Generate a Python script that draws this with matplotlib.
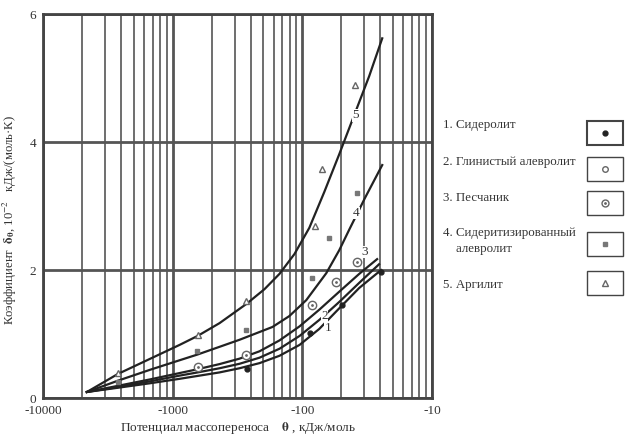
import numpy as np
import matplotlib.pyplot as plt
from matplotlib.ticker import FixedLocator, NullFormatter
from matplotlib.patches import Rectangle

plt.rcParams['font.family'] = ['Liberation Serif', 'DejaVu Serif']
plt.rcParams['mathtext.fontset'] = 'stix'

# mass-transfer potential theta, kJ/mol  ->  coefficient delta_theta, 1e-2 kJ/(mol K)
theta123 = [-4590, -2650, -1500, -884, -642, -435, -305, -214, -150, -105, -74, -52, -36.4]
delta1 = [0.094, 0.16, 0.23, 0.30, 0.345, 0.40, 0.465, 0.545, 0.66, 0.83, 1.08, 1.40, 1.72]
delta2 = [0.094, 0.17, 0.26, 0.35, 0.40, 0.465, 0.535, 0.63, 0.77, 0.97, 1.22, 1.50, 1.80]
delta3 = [0.094, 0.19, 0.29, 0.39, 0.45, 0.53, 0.615, 0.73, 0.90, 1.12, 1.38, 1.66, 1.94]
theta1 = theta123 + [-24.7]
delta1 = delta1 + [2.00]
theta2 = theta123 + [-25.6]
delta2 = delta2 + [2.09]
theta3 = theta123 + [-26.5]
delta3 = delta3 + [2.17]
theta4 = [-4590, -2650, -1500, -884, -642, -435, -305, -170, -126, -93.2, -65.4, -51.9, -43.5, -32.8, -24.2]
delta4 = [0.094, 0.27, 0.44, 0.59, 0.68, 0.80, 0.91, 1.11, 1.28, 1.53, 1.95, 2.31, 2.63, 3.13, 3.64]
theta5 = [-4590, -2650, -1503, -884, -642, -435, -270, -196, -150, -115, -88.3, -67.7, -51.9, -39.8, -30.5, -24.2]
delta5 = [0.094, 0.375, 0.61, 0.83, 0.97, 1.17, 1.47, 1.70, 1.94, 2.25, 2.66, 3.22, 3.81, 4.42, 5.03, 5.62]

# experimental points
pt_theta1 = [-265, -88, -49.2, -24.7]
pt_delta1 = [0.45, 1.02, 1.45, 1.97]
pt_theta3 = [-642, -270, -84, -54.8, -37.8]
pt_delta3 = [0.48, 0.67, 1.45, 1.81, 2.13]
pt_theta4 = [-2650, -650, -270, -84, -62, -38]
pt_delta4 = [0.25, 0.73, 1.06, 1.87, 2.50, 3.20]
pt_theta5 = [-2650, -642, -270, -79.4, -70, -39.1]
pt_delta5 = [0.39, 0.98, 1.52, 2.69, 3.58, 4.89]

# curve numbers: position (theta, delta)
lab_theta = [-63.1, -67.7, -32.8, -38.5, -39.1]
lab_delta = [1.09, 1.28, 2.28, 2.89, 4.42]

names = ["1. Сидеролит", "2. Глинистый алевролит", "3. Песчаник",
         "4. Сидеритизированный\n    алевролит", "5. Аргилит"]

xticks = [10000, 1000, 100, 10]
xticklabels = ["-10000", "-1000", "-100", "-10"]

fig = plt.figure(figsize=(6.27, 4.38), dpi=100)
ax = fig.add_axes([0.0686, 0.0913, 0.6204, 0.8767])

lc = "#222222"
gc = "#555555"

ax.set_xscale("log")
ax.set_xlim(10000, 10)
ax.set_ylim(0, 6)
ax.set_xticks(xticks)
ax.set_xticklabels(xticklabels)
minors = [d / k for d in (10000, 1000, 100) for k in range(2, 10)]
ax.xaxis.set_minor_locator(FixedLocator(minors))
ax.xaxis.set_minor_formatter(NullFormatter())
ax.set_yticks([0, 2, 4, 6])
ax.tick_params(which="both", length=0, labelsize=9.5, pad=5, colors="#333333")
ax.grid(which="major", color=gc, lw=2.0)
ax.grid(which="minor", axis="x", color=gc, lw=1.2)
ax.set_axisbelow(True)
for s in ax.spines.values():
    s.set_linewidth(2.0)
    s.set_color("#444444")

for th, de in [(theta1, delta1), (theta2, delta2), (theta3, delta3),
               (theta4, delta4), (theta5, delta5)]:
    ax.plot(-np.array(th), de, color=lc, lw=1.6, zorder=3)

ax.plot(-np.array(pt_theta1), pt_delta1, "o", ms=3.5, color=lc, zorder=4)
ax.plot(-np.array(pt_theta3), pt_delta3, "o", ms=6, mfc="white", mec="#666666", mew=1, zorder=4)
ax.plot(-np.array(pt_theta3), pt_delta3, ".", ms=2, color="#666666", zorder=5)
ax.plot(-np.array(pt_theta4), pt_delta4, "s", ms=3, color="#777777", zorder=4)
ax.plot(-np.array(pt_theta5), pt_delta5, "^", ms=5, mfc="white", mec="#666666", mew=1, zorder=4)

for i, (t, d) in enumerate(zip(lab_theta, lab_delta)):
    ax.text(-t, d, str(i + 1), fontsize=9.5, color="#333333", ha="center", va="center", zorder=6,
            bbox=dict(facecolor="white", edgecolor="none", pad=0.3))

ax.set_xlabel("Потенциал массопереноса    $\\mathbf{\\theta}$ , кДж/моль", fontsize=9.5, color="#333333", labelpad=2)
ax.set_ylabel("Коэффициент  $\\mathbf{\\delta_\\theta}$, 10$^{-2}$   кДж/(моль·К)", fontsize=9.2, color="#333333")
ax.yaxis.set_label_coords(-0.062, 0.464)

# legend drawn in pixel coordinates
lg = fig.add_axes([0, 0, 1, 1])
lg.set_xlim(0, 627)
lg.set_ylim(438, 0)
lg.axis("off")
text_y = [125, 162, 198, 241, 285]
box_y = [133, 169, 203, 244, 283]
for i, (n, ty, by) in enumerate(zip(names, text_y, box_y)):
    lg.text(443, ty, n, fontsize=9.3, color="#333333", va="center", ha="left", linespacing=1.5)
    lg.add_patch(Rectangle((587, by - 12), 36, 24, fill=False, lw=1.5 if i == 0 else 1.0, ec="#444444"))
lg.plot([605], [box_y[0]], "o", ms=3.5, color=lc)
lg.plot([605], [box_y[1]], "o", ms=4, mfc="white", mec="#666666")
lg.plot([605], [box_y[2]], "o", ms=5, mfc="white", mec="#666666")
lg.plot([605], [box_y[2]], ".", ms=2, color="#666666")
lg.plot([605], [box_y[3]], "s", ms=3, color="#777777")
lg.plot([605], [box_y[4]], "^", ms=5, mfc="white", mec="#666666")

fig.savefig("out.png", dpi=100)
